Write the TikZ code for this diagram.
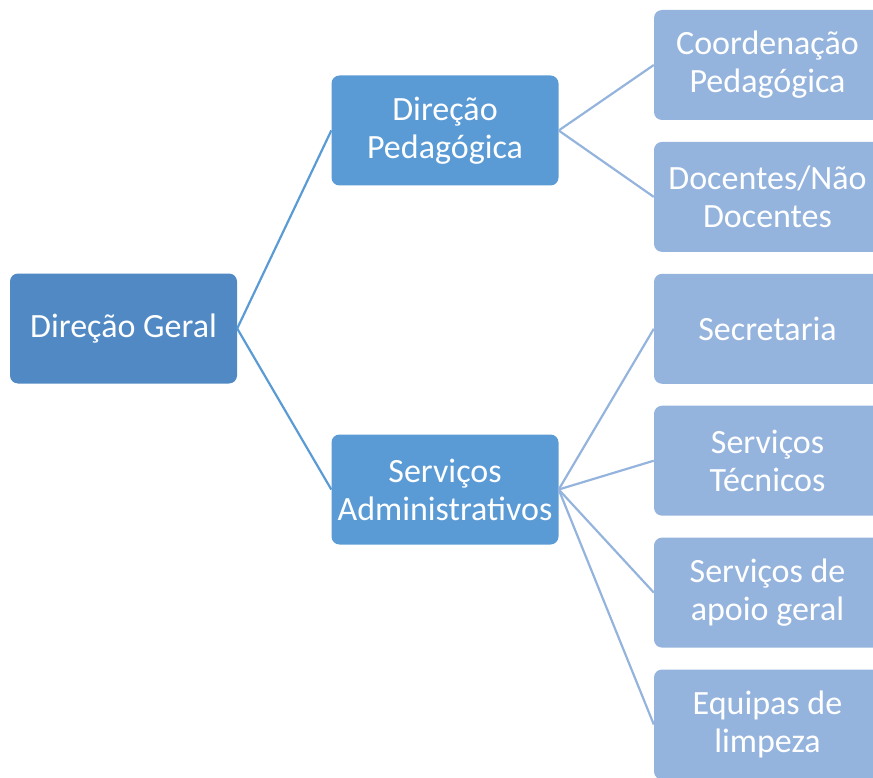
\documentclass[tikz,border=0pt]{standalone}
\usepackage{fontspec}
\setmainfont{Carlito}
\usepackage{xcolor}
\usetikzlibrary{positioning}

\definecolor{rootblue}{RGB}{80,137,195}
\definecolor{midblue}{RGB}{91,155,213}
\definecolor{leafblue}{RGB}{149,180,221}

\begin{document}
\begin{tikzpicture}[x=1pt, y=-1pt, node distance=21.5pt]
        \tikzset{
                basic/.style = {rounded corners=8pt, text=white, align=center, inner sep=0pt,
                                minimum width=227pt, minimum height=110pt,
                                font=\fontsize{34}{38}\selectfont},
                root/.style  = {basic, fill=rootblue},
                mid/.style   = {basic, fill=midblue},
                leaf/.style  = {basic, fill=leafblue},
                link/.style  = {line width=2.2pt}
        }
        \useasboundingbox (0,0) rectangle (873,778);
        \clip (0,0) rectangle (873,778);

        % root, level 1
        \node[root] (g) at (123.5,328.5) {Direção Geral};

        % the second level
        \node[mid] (p) at (445,130.5) {Direção\\Pedagógica};
        \node[mid] (s) at (445,489.5) {Serviços\\Administrativos};

        % the third level, relatively positioned nodes
        \node[leaf] (p1) at (767.5,65) {Coordenação\\Pedagógica};
        \node[leaf, below=of p1] (p2) {Docentes/Não\\Docentes};
        \node[leaf, below=of p2] (s1) {Secretaria};
        \node[leaf, below=of s1] (s2) {Serviços\\Técnicos};
        \node[leaf, below=of s2] (s3) {Serviços de\\apoio geral};
        \node[leaf, below=of s3] (s4) {Equipas de\\limpeza};

        % lines from each node to every one of its children
        \foreach \child in {p,s}
        \draw[link, midblue] (g.east) -- (\child.west);

        \foreach \value in {1,2}
        \draw[link, leafblue] (p.east) -- (p\value.west);

        \foreach \value in {1,...,4}
        \draw[link, leafblue] (s.east) -- (s\value.west);

\end{tikzpicture}
\end{document}
